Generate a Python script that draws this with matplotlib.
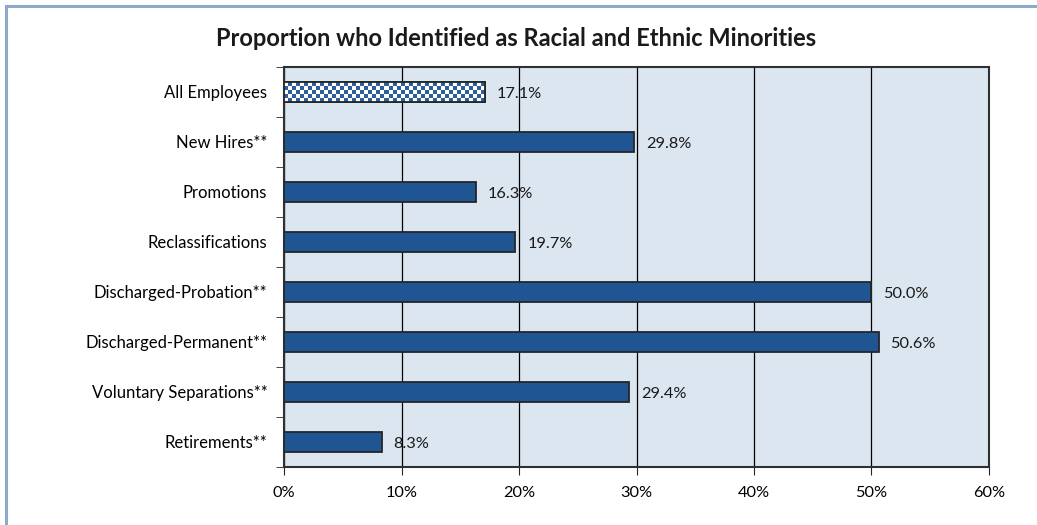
import numpy as np
import matplotlib.pyplot as plt
from matplotlib.lines import Line2D

categories = ['All Employees', 'New Hires**', 'Promotions', 'Reclassifications',
              'Discharged-Probation**', 'Discharged-Permanent**',
              'Voluntary Separations**', 'Retirements**']
values = [17.1, 29.8, 16.3, 19.7, 50.0, 50.6, 29.4, 8.3]

plt.rcParams['font.family'] = ['Lato', 'DejaVu Sans']

fig = plt.figure(figsize=(10.37, 5.25), dpi=100)
ax = fig.add_axes([0.2739, 0.1105, 0.6798, 0.7619])
ax.set_facecolor('#dce6f1')

y = np.arange(len(categories))
h = 0.4
bars = ax.barh(y, values, height=h, color='#1f5593', edgecolor='#262626',
               linewidth=1.3, zorder=3)

# first bar gets a checkered fill
b0 = bars[0]
b0.set_facecolor('white')
nx, ny = 50, 5
checker = (np.add.outer(np.arange(ny), np.arange(nx)) % 2).astype(float)
cmap = plt.matplotlib.colors.ListedColormap(['#ffffff', '#2b5f9e'])
img = ax.imshow(checker, cmap=cmap, aspect='auto', interpolation='nearest',
                extent=(0, values[0], y[0] + h / 2, y[0] - h / 2), zorder=3.5)
img.set_clip_path(b0)
ax.barh(y[0], values[0], height=h, fill=False, edgecolor='#262626',
        linewidth=1.3, zorder=4)

for yi, v in zip(y, values):
    ax.text(v + 1.0, yi + 0.04, f'{v:.1f}%', va='center', ha='left', fontsize=11.8,
            color='#1a1a1a', zorder=5)

ax.set_xlim(0, 60)
ax.set_ylim(len(categories) - 0.5, -0.5)
ax.set_xticks(np.arange(0, 61, 10))
ax.set_xticklabels([f'{t}%' for t in range(0, 61, 10)], fontsize=11.8)
ax.set_yticks(y)
ax.set_yticklabels(categories, fontsize=12)
ax.set_yticks(np.arange(-0.5, len(categories), 1), minor=True)
ax.tick_params(axis='y', which='major', length=0, pad=12)
ax.tick_params(axis='y', which='minor', length=6, color='#262626')
ax.tick_params(axis='x', length=6, color='#262626', pad=8)
ax.grid(axis='x', color='black', linewidth=0.9, zorder=1)
ax.set_axisbelow(True)
for s in ax.spines.values():
    s.set_color('#303030')
    s.set_linewidth(1.5)

fig.text(0.498, 1 - 38 / 525, 'Proportion who Identified as Racial and Ethnic Minorities',
         ha='center', va='center', fontsize=17, fontweight='bold', color='#1a1a1a')

# outer frame lines, left and top only
fig.add_artist(Line2D([5.5 / 1037, 5.5 / 1037], [0, 1 - 5.5 / 525],
                      color='#8eaacb', linewidth=2.2))
fig.add_artist(Line2D([5.5 / 1037, 1], [1 - 5.5 / 525, 1 - 5.5 / 525],
                      color='#8eaacb', linewidth=2.2))

fig.savefig('out.png', dpi=100)
